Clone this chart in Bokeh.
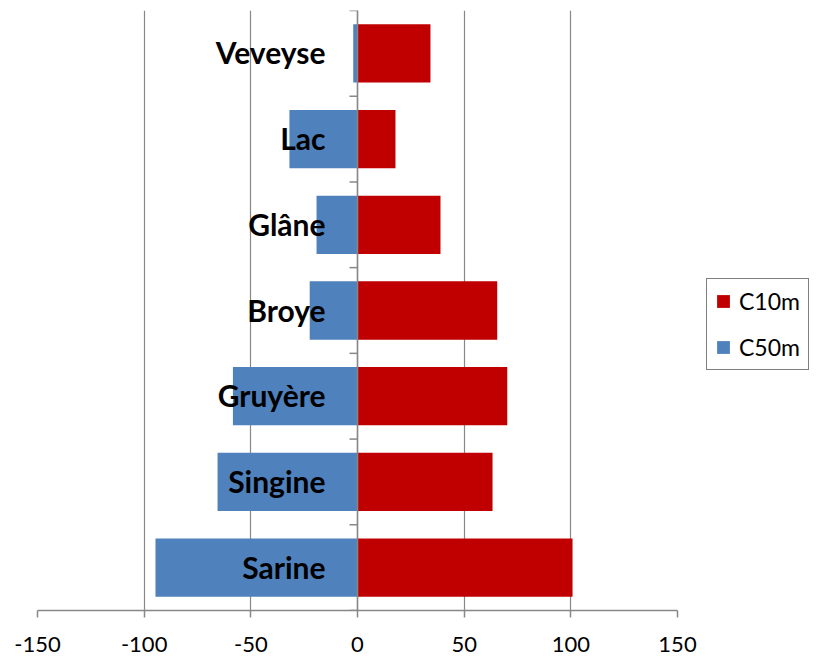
from bokeh.plotting import figure
from bokeh.models import ColumnDataSource, Range1d, FixedTicker, Legend, LegendItem, Span
from bokeh.core.properties import value
from bokeh.embed import file_html
from bokeh.resources import INLINE

categories = ["Sarine", "Singine", "Gruyère", "Broye", "Glâne", "Lac", "Veveyse"]
c10m = [100.8, 63.3, 70.2, 65.5, 38.9, 17.8, 34.2]
c50m = [-94.7, -65.6, -58.4, -22.4, -19.2, -31.9, -2.0]
x_ticks = [-150, -100, -50, 0, 50, 100, 150]

n = len(categories)
pos = list(range(n))
zeros = [0] * n
src = ColumnDataSource(dict(y=pos, c10=c10m, c50=c50m, zero=zeros, name=categories))

p = figure(frame_width=640, frame_height=600, output_backend="svg", toolbar_location=None,
           x_range=Range1d(-150, 150), y_range=Range1d(-0.5, n - 0.5),
           min_border_left=37, min_border_right=0, min_border_top=10, min_border_bottom=47)
p.outline_line_color = None
p.background_fill_color = "white"

GRAY = "#888888"
FONT = "Lato"

r10 = p.hbar(y="y", left="zero", right="c10", height=0.68, source=src,
             fill_color="#C00000", line_color=None)
r50 = p.hbar(y="y", left="c50", right="zero", height=0.68, source=src,
             fill_color="#4F81BD", line_color=None)

# vertical axis at zero with category boundary ticks
p.add_layout(Span(location=0, dimension="height", line_color=GRAY, line_width=1.5, level="overlay"))
bounds = [i - 0.5 for i in range(n + 1)]
p.ray(x=[0] * len(bounds), y=bounds, length=8, length_units="screen", angle=3.14159265,
      line_color=GRAY, line_width=1.5)

p.text(x="zero", y="y", text="name", source=src, x_offset=-32, y_offset=-1,
       text_align="right", text_baseline="middle",
       text_font=value(FONT), text_font_size="30px", text_font_style="bold",
       text_color="black")

p.yaxis.visible = False
p.ygrid.visible = False
p.xgrid.ticker = FixedTicker(ticks=x_ticks)
p.xgrid.grid_line_color = GRAY
p.xgrid.grid_line_width = 1.2
p.xaxis.ticker = FixedTicker(ticks=x_ticks)
p.xaxis.major_label_overrides = {t: str(t) for t in x_ticks}
p.xaxis.axis_line_color = GRAY
p.xaxis.axis_line_width = 1.5
p.xaxis.major_tick_line_color = GRAY
p.xaxis.major_tick_line_width = 1.5
p.xaxis.major_tick_out = 7
p.xaxis.major_tick_in = 0
p.xaxis.minor_tick_line_color = None
p.xaxis.major_label_text_font = FONT
p.xaxis.major_label_text_font_size = "22px"
p.xaxis.major_label_text_color = "black"
p.xaxis.major_label_standoff = 19

legend = Legend(items=[LegendItem(label="C10m", renderers=[r10]),
                       LegendItem(label="C50m", renderers=[r50])],
                location=(29, 240), orientation="vertical")
legend.margin = 0
legend.padding = 8
legend.spacing = 18
legend.glyph_width = 16
legend.glyph_height = 16
legend.label_standoff = 8
legend.label_text_font = FONT
legend.label_text_font_size = "23px"
legend.label_text_color = "black"
legend.border_line_color = "black"
legend.border_line_width = 1.5
legend.background_fill_color = "white"
p.add_layout(legend, "right")

open("out.html", "w").write(file_html(p, INLINE))
